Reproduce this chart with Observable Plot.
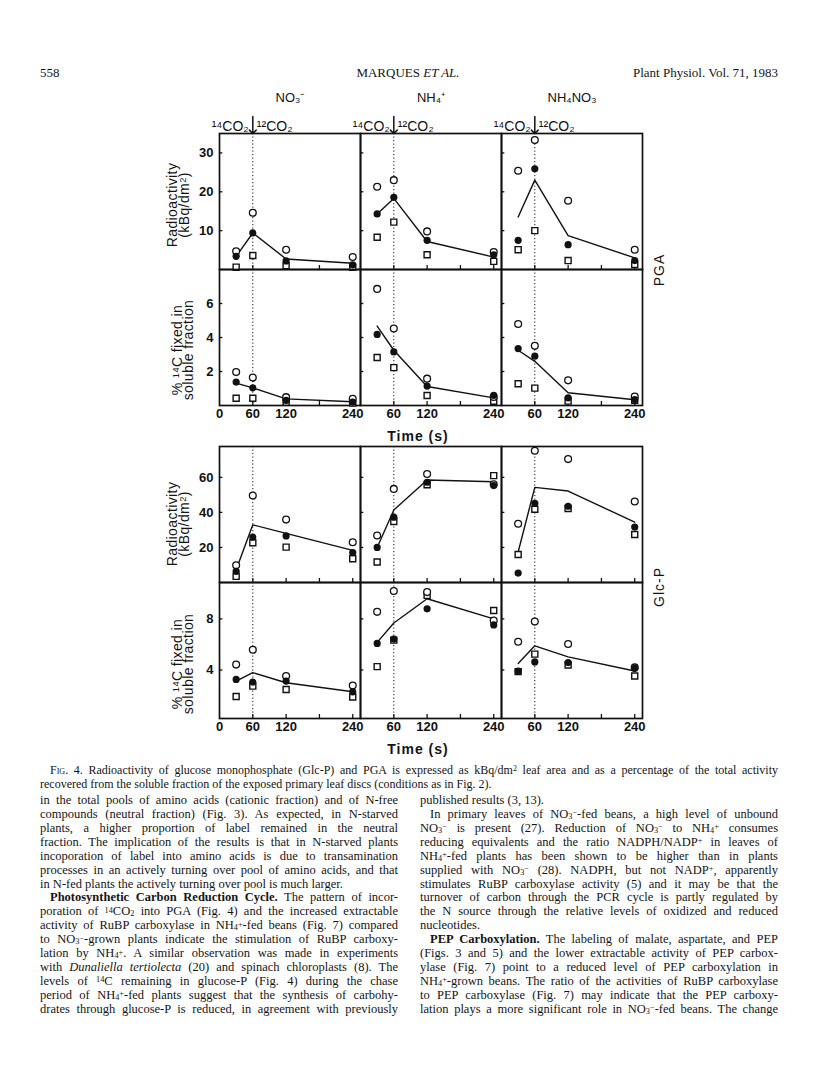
<!DOCTYPE html>
<html><head><meta charset="utf-8">
<script src="https://cdn.jsdelivr.net/npm/d3@7"></script>
<script src="https://cdn.jsdelivr.net/npm/@observablehq/plot@0.6"></script>
<style>
body{margin:0;background:#fff;}
#page{position:relative;width:816px;height:1073px;overflow:hidden;background:#fff;color:#141414;}
.serif{font-family:"Liberation Serif","Times New Roman",serif;}
.abs{position:absolute;white-space:nowrap;}
.rot{position:absolute;white-space:nowrap;transform:translate(-50%,-50%) rotate(-90deg);text-align:center;font-family:"Liberation Sans",sans-serif;color:#141414;}
.col{position:absolute;font-family:"Liberation Serif","Times New Roman",serif;font-size:12.5px;}
.col div{height:13.93px;line-height:13.93px;white-space:nowrap;text-align:justify;text-align-last:justify;}
.col div.last{text-align:left;text-align-last:left;}
.col div.ind{padding-left:10px;}
sup,sub{font-size:0.66em;line-height:0;position:relative;vertical-align:baseline;}
sup{top:-0.32em;} sub{top:0.12em;}
.sans{font-family:"Liberation Sans",sans-serif;}
</style>
</head><body>
<div id="page"></div>
<script>
// ---------- data ----------
const times = [30, 60, 120, 240];
const conditions = ["NO3", "NH4", "NH4NO3"];
const conditionLabels = ["NO₃⁻", "NH₄⁺", "NH₄NO₃"];
const minorTicks = [60, 120, 180, 240];
const xTickFirst = [0, 60, 120, 240];
const xTickOther = [60, 120, 240];

// values are listed NO3 (30,60,120,240), NH4 (...), NH4NO3 (...)
// PGA radioactivity (kBq/dm2)
const pgaRadOpen   = [4.7, 14.6, 5.1, 3.2,   21.3, 23.0, 9.8, 4.5,   25.4, 33.3, 17.7, 5.1];
const pgaRadFilled = [3.4, 9.4, 2.2, 1.2,    14.3, 18.6, 7.5, 3.8,   7.5, 25.9, 6.4, 2.3];
const pgaRadSquare = [0.6, 3.6, 1.0, 0.6,    8.3, 12.2, 3.8, 2.1,    5.1, 10.0, 2.3, 1.3];
const pgaRadLine   = [3.4, 9.4, 2.7, 1.6,    14.3, 18.3, 7.2, 3.2,   13.5, 23.0, 8.7, 3.0];
const pgaRadTicks  = [10, 20, 30];
// PGA % 14C fixed in soluble fraction
const pgaPctOpen   = [1.97, 1.64, 0.49, 0.39,  6.86, 4.53, 1.58, 0.50,  4.79, 3.51, 1.48, 0.53];
const pgaPctFilled = [1.38, 1.04, 0.30, 0.20,  4.18, 3.15, 1.14, 0.60,  3.35, 2.90, 0.45, 0.35];
const pgaPctSquare = [0.43, 0.43, 0.20, 0.14,  2.82, 2.23, 0.59, 0.25,  1.28, 1.02, 0.26, 0.30];
const pgaPctLine   = [1.32, 1.04, 0.39, 0.22,  4.67, 3.25, 1.12, 0.45,  3.25, 2.60, 0.75, 0.34];
const pgaPctTicks  = [2, 4, 6];
// Glc-P radioactivity
const glcRadOpen   = [9.8, 49.6, 35.9, 23.0,  26.8, 53.4, 61.9, 56.0,  33.5, 75.2, 70.4, 46.2];
const glcRadFilled = [6.4, 25.9, 26.6, 17.0,  20.0, 37.3, 57.2, 55.3,  5.4, 45.2, 43.5, 31.6];
const glcRadSquare = [3.5, 22.7, 20.2, 13.6,  11.7, 34.8, 55.8, 61.0,  16.0, 41.8, 42.2, 27.4];
const glcRadLine   = [7.3, 32.9, 28.0, 18.3,  20.0, 41.4, 58.5, 57.5,  17.4, 54.3, 52.2, 34.4];
const glcRadTicks  = [20, 40, 60];
// Glc-P %
const glcPctOpen   = [4.42, 5.58, 3.53, 2.79,  8.55, 10.18, 10.10, 7.87,  6.21, 7.79, 6.03, 4.20];
const glcPctFilled = [3.26, 3.05, 3.13, 2.29,  6.08, 6.42, 8.79, 7.53,    3.92, 4.63, 4.58, 4.13];
const glcPctSquare = [1.92, 2.74, 2.47, 1.89,  4.26, 6.34, 9.84, 8.66,    3.87, 5.24, 4.39, 3.53];
const glcPctLine   = [3.13, 3.79, 3.00, 2.29,  6.16, 7.68, 9.58, 8.00,    4.50, 5.89, 5.03, 3.92];
const glcPctTicks  = [4, 8];

// ---------- helpers ----------
function table(values) {
  const out = [];
  conditions.forEach((c, i) => times.forEach((t, j) => out.push({c, t, v: values[i * times.length + j]})));
  return out;
}
const xLabelData = [
  ...xTickFirst.map(t => ({c: conditions[0], t})),
  ...conditions.slice(1).flatMap(c => xTickOther.map(t => ({c, t})))
];

const page = document.getElementById("page");
const FRAME_LEFT = 218, FRAME_W = 425, ML = 45, MR = 5;

function rowPlot(cfg) {
  const innerH = cfg.innerH;
  const bw = FRAME_W / 3;
  const marks = [
    Plot.ruleX([60], {x: d => d, stroke: "#111", strokeWidth: 1, strokeDasharray: "1.2,2.3"}),
    Plot.tickY(cfg.ticks, {y: d => d, stroke: "#111", strokeWidth: 1.3, insetRight: bw - 4}),
    Plot.tickX(minorTicks, {x: d => d, stroke: "#111", strokeWidth: 1.3, insetTop: innerH - 4}),
    Plot.frame({stroke: "#111", strokeWidth: 1.7}),
    Plot.text(cfg.ticks, {y: d => d, fx: () => conditions[0], frameAnchor: "left", dx: -6, textAnchor: "end",
      fontSize: 13, fontWeight: "bold", fill: "#111"}),
    Plot.line(table(cfg.line), {x: "t", y: "v", fx: "c", stroke: "#111", strokeWidth: 1.4}),
    Plot.dot(table(cfg.square), {x: "t", y: "v", fx: "c", symbol: "square", r: 3.4, stroke: "#111", fill: "white", strokeWidth: 1.4}),
    Plot.dot(table(cfg.open), {x: "t", y: "v", fx: "c", r: 3.4, stroke: "#111", fill: "white", strokeWidth: 1.3}),
    Plot.dot(table(cfg.filled), {x: "t", y: "v", fx: "c", r: 3.6, fill: "#111", stroke: "none"})
  ];
  if (cfg.xLabels) {
    marks.push(Plot.text(xLabelData, {x: "t", fx: "c", frameAnchor: "bottom", dy: 12, text: d => String(d.t),
      fontSize: 13, fontWeight: "bold", fill: "#111", letterSpacing: "-0.5px"}));
  }
  if (cfg.header) {
    marks.push(
      Plot.text(conditions, {fx: d => d, frameAnchor: "top", dy: -41, text: (d, i) => conditionLabels[i], fontSize: 13, fill: "#111"}),
      Plot.text([60], {x: d => d, frameAnchor: "top", dy: -12, dx: -4, textAnchor: "end", text: () => "¹⁴CO₂", fontSize: 14, fill: "#111"}),
      Plot.text([60], {x: d => d, frameAnchor: "top", dy: -12, dx: 4, textAnchor: "start", text: () => "¹²CO₂", fontSize: 14, fill: "#111"}),
      Plot.vector([60], {x: d => d, frameAnchor: "top", anchor: "end", rotate: 180, length: 17, stroke: "#111", strokeWidth: 1.5})
    );
  }
  const svg = Plot.plot({
    width: ML + FRAME_W + MR,
    height: cfg.marginTop + innerH + cfg.marginBottom,
    marginLeft: ML, marginRight: MR, marginTop: cfg.marginTop, marginBottom: cfg.marginBottom,
    x: {domain: [0, 254], axis: null},
    y: {domain: cfg.domain, axis: null},
    fx: {domain: conditions, paddingInner: 0, paddingOuter: 0, axis: null, label: null},
    style: {fontFamily: "Liberation Sans, Arial, sans-serif", fontSize: "13px", color: "#111", background: "transparent", overflow: "visible"},
    marks
  });
  svg.style.position = "absolute";
  svg.style.left = (FRAME_LEFT - ML) + "px";
  svg.style.top = (cfg.frameTop - cfg.marginTop) + "px";
  page.appendChild(svg);
}

rowPlot({open: pgaRadOpen, filled: pgaRadFilled, square: pgaRadSquare, line: pgaRadLine, ticks: pgaRadTicks,
  domain: [0, 35], frameTop: 133, innerH: 136, marginTop: 50, marginBottom: 1, header: true});
rowPlot({open: pgaPctOpen, filled: pgaPctFilled, square: pgaPctSquare, line: pgaPctLine, ticks: pgaPctTicks,
  domain: [0, 8], frameTop: 269, innerH: 136, marginTop: 1, marginBottom: 30, xLabels: true});
rowPlot({open: glcRadOpen, filled: glcRadFilled, square: glcRadSquare, line: glcRadLine, ticks: glcRadTicks,
  domain: [0, 77.6], frameTop: 446, innerH: 136, marginTop: 4, marginBottom: 1});
rowPlot({open: glcPctOpen, filled: glcPctFilled, square: glcPctSquare, line: glcPctLine, ticks: glcPctTicks,
  domain: [0.2, 10.85], frameTop: 582, innerH: 136, marginTop: 1, marginBottom: 30, xLabels: true});

// ---------- text ----------
function add(html, cls, style) {
  const d = document.createElement("div");
  d.className = cls; d.innerHTML = html; Object.assign(d.style, style);
  page.appendChild(d); return d;
}
// figure labels
const yTitleRad = "Radioactivity<br>(kBq/dm<sup>2</sup>)";
const yTitlePct = "% <sup>14</sup>C fixed in<br>soluble fraction";
add(yTitleRad, "rot", {left: "178px", top: "205px", fontSize: "14px", lineHeight: "12px", letterSpacing: "0.4px"});
add(yTitlePct, "rot", {left: "183px", top: "350px", fontSize: "14px", lineHeight: "11px", letterSpacing: "0.4px"});
add(yTitleRad, "rot", {left: "178px", top: "524px", fontSize: "14px", lineHeight: "12px", letterSpacing: "0.4px"});
add(yTitlePct, "rot", {left: "183px", top: "664px", fontSize: "14px", lineHeight: "11px", letterSpacing: "0.4px"});
add("PGA", "rot", {left: "659px", top: "270px", fontSize: "14px", letterSpacing: "1px"});
add("Glc-P", "rot", {left: "659px", top: "587px", fontSize: "14px", letterSpacing: "1px"});
add("Time (s)", "abs sans", {left: "418px", top: "436px", transform: "translate(-50%,-50%)", fontSize: "14px", letterSpacing: "1px", fontWeight: "bold"});
add("Time (s)", "abs sans", {left: "418px", top: "749px", transform: "translate(-50%,-50%)", fontSize: "14px", letterSpacing: "1px", fontWeight: "bold"});

// page header
add("558", "abs serif", {left: "40px", top: "65px", fontSize: "13px", lineHeight: "16px"});
add("MARQUES <i>ET AL.</i>", "abs serif", {left: "408px", top: "65px", transform: "translateX(-50%)", fontSize: "13px", lineHeight: "16px"});
add("Plant Physiol. Vol. 71, 1983", "abs serif", {right: "38px", top: "65px", fontSize: "13px", lineHeight: "16px"});

// caption
const cap1 = '<span style="font-variant:small-caps">Fig</span>. 4. Radioactivity of glucose monophosphate (Glc-P) and PGA is expressed as kBq/dm<sup>2</sup> leaf area and as a percentage of the total activity';
const cap2 = 'recovered from the soluble fraction of the exposed primary leaf discs (conditions as in Fig. 2).';
add('<div>' + cap1 + '</div>', "col", {left: "50px", top: "763px", width: "728px", fontSize: "12px"}).firstChild.style.cssText = "height:14px;line-height:14px;";
add('<div class="last">' + cap2 + '</div>', "col", {left: "40px", top: "777px", width: "738px", fontSize: "12px"}).firstChild.style.cssText = "height:14px;line-height:14px;text-align:left;text-align-last:left;";

const NH4 = 'NH<sub>4</sub><sup>+</sup>', NO3 = 'NO<sub>3</sub><sup>−</sup>';
const leftLines = [
  ["", "in the total pools of amino acids (cationic fraction) and of N-free"],
  ["", "compounds (neutral fraction) (Fig. 3). As expected, in N-starved"],
  ["", "plants, a higher proportion of label remained in the neutral"],
  ["", "fraction. The implication of the results is that in N-starved plants"],
  ["", "incoporation of label into amino acids is due to transamination"],
  ["", "processes in an actively turning over pool of amino acids, and that"],
  ["last", "in N-fed plants the actively turning over pool is much larger."],
  ["ind", "<b>Photosynthetic Carbon Reduction Cycle.</b> The pattern of incor-"],
  ["", "poration of <sup>14</sup>CO<sub>2</sub> into PGA (Fig. 4) and the increased extractable"],
  ["", "activity of RuBP carboxylase in " + NH4 + "-fed beans (Fig. 7) compared"],
  ["", "to " + NO3 + "-grown plants indicate the stimulation of RuBP carboxy-"],
  ["", "lation by " + NH4 + ". A similar observation was made in experiments"],
  ["", "with <i>Dunaliella tertiolecta</i> (20) and spinach chloroplasts (8). The"],
  ["", "levels of <sup>14</sup>C remaining in glucose-P (Fig. 4) during the chase"],
  ["", "period of " + NH4 + "-fed plants suggest that the synthesis of carbohy-"],
  ["", "drates through glucose-P is reduced, in agreement with previously"]
];
const rightLines = [
  ["last", "published results (3, 13)."],
  ["ind", "In primary leaves of " + NO3 + "-fed beans, a high level of unbound"],
  ["", NO3 + " is present (27). Reduction of " + NO3 + " to " + NH4 + " consumes"],
  ["", "reducing equivalents and the ratio NADPH/NADP<sup>+</sup> in leaves of"],
  ["", NH4 + "-fed plants has been shown to be higher than in plants"],
  ["", "supplied with " + NO3 + " (28). NADPH, but not NADP<sup>+</sup>, apparently"],
  ["", "stimulates RuBP carboxylase activity (5) and it may be that the"],
  ["", "turnover of carbon through the PCR cycle is partly regulated by"],
  ["", "the N source through the relative levels of oxidized and reduced"],
  ["last", "nucleotides."],
  ["ind", "<b>PEP Carboxylation.</b> The labeling of malate, aspartate, and PEP"],
  ["", "(Figs. 3 and 5) and the lower extractable activity of PEP carbox-"],
  ["", "ylase (Fig. 7) point to a reduced level of PEP carboxylation in"],
  ["", NH4 + "-grown beans. The ratio of the activities of RuBP carboxylase"],
  ["", "to PEP carboxylase (Fig. 7) may indicate that the PEP carboxy-"],
  ["", "lation plays a more significant role in " + NO3 + "-fed beans. The change"]
];
const toHtml = lines => lines.map(([c, t]) => '<div class="' + c + '">' + t + '</div>').join("");
add(toHtml(leftLines), "col", {left: "40px", top: "794px", width: "358px"});
add(toHtml(rightLines), "col", {left: "420px", top: "794px", width: "358px"});
</script>
</body></html>
